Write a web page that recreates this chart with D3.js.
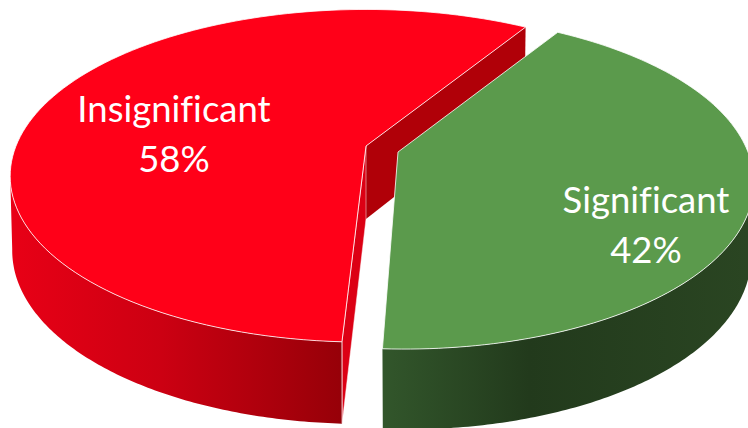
<!DOCTYPE html>
<html>
<head>
<meta charset="utf-8">
<script src="https://cdn.jsdelivr.net/npm/d3@7/dist/d3.min.js"></script>
<style>html,body{margin:0;padding:0;background:#fff;overflow:hidden}svg{display:block}</style>
</head>
<body>
<script>
const categories = ["Significant", "Insignificant"];
const values = [42, 58];
const percentLabels = ["42%", "58%"];
const topColors = ["#5b9a4c", "#ff0018"];
const W = 748, H = 428;

const startDeg = 31.7;
const pie = d3.pie().sort(null).value(d => d)
  .startAngle(startDeg * Math.PI / 180)
  .endAngle((startDeg + 360) * Math.PI / 180);
const arcs = pie(values);

// Per-slice layout: top-face apex and perspective, bottom-ring apex and perspective
const layout = [
  { ax: 398, ay: 152, R: 350, S: 162, k: 0.178, bx: 398, by: 225, bR: 348, bS: 170, bk: 0.169, skew: 6,
    wallFrom: 100, wallTo: null, label: [646, 213, 263] },
  { ax: 366, ay: 146, R: 350, S: 161, k: 0.179, bx: 366, by: 219, bR: 348, bS: 168.3, bk: 0.179, skew: -2.5,
    wallFrom: null, wallTo: 260, label: [174, 122, 171.5] }
];

function proj(a, r, cx, cy, R, S, k, skew) {
  const u = r * Math.sin(a), v = -r * Math.cos(a), w = 1 - k * v;
  const s = v > 0 ? skew * v * v : 0;
  return [cx + R * u / w + s, cy + S * v / w];
}
const topP = (l, a, r = 1) => proj(a, r, l.ax, l.ay, l.R, l.S, l.k, l.skew);
const botP = (l, a, r = 1) => proj(a, r, l.bx, l.by, l.bR, l.bS, l.bk, l.skew);
const line = d3.line();
const samples = (a0, a1) => d3.range(0, 121).map(i => a0 + (a1 - a0) * i / 120);

const svg = d3.select("body").append("svg").attr("width", W).attr("height", H)
  .style("font-family", "Lato, Carlito, sans-serif")
  .style("font-variant-ligatures", "none");
const defs = svg.append("defs");

function gradient(id, x1, x2, stops) {
  const g = defs.append("linearGradient").attr("id", id)
    .attr("gradientUnits", "userSpaceOnUse")
    .attr("x1", x1).attr("x2", x2).attr("y1", 0).attr("y2", 0);
  stops.forEach(s => g.append("stop").attr("offset", s[0]).attr("stop-color", s[1]));
}
gradient("gWallR", 12, 343, [[0, "#e80016"], [0.45, "#cc0012"], [1, "#960008"]]);
gradient("gWallG", 383, 748, [[0, "#32562b"], [0.4, "#223a1c"], [1, "#2a4522"]]);

const edge = "rgba(255,255,255,0.8)";

// red slice
const lr = layout[1], ar = arcs[1];
const rWall = samples(ar.startAngle, lr.wallTo * Math.PI / 180);
// back cut face (visible dark red)
svg.append("path")
  .attr("d", line([topP(lr, 0, 0), topP(lr, ar.endAngle), botP(lr, ar.endAngle), botP(lr, 0, 0)]) + "Z")
  .attr("fill", "#b00008");
// front cut face sliver
svg.append("path")
  .attr("d", line([topP(lr, 0, 0), topP(lr, ar.startAngle), botP(lr, ar.startAngle), botP(lr, 0, 0)]) + "Z")
  .attr("fill", "#dc0014").attr("stroke", edge).attr("stroke-width", 0.6);
// outer wall
svg.append("path")
  .attr("d", line(rWall.map(a => topP(lr, a)).concat(rWall.slice().reverse().map(a => botP(lr, a)))) + "Z")
  .attr("fill", "url(#gWallR)");
svg.append("path")
  .attr("d", line([topP(lr, ar.startAngle), botP(lr, ar.startAngle)]))
  .attr("stroke", edge).attr("stroke-width", 0.9).attr("fill", "none");
// top face
const rTop = samples(ar.startAngle, ar.endAngle);
svg.append("path")
  .attr("d", line([topP(lr, 0, 0)].concat(rTop.map(a => topP(lr, a)))) + "Z")
  .attr("fill", topColors[1]).attr("stroke", edge).attr("stroke-width", 1);

// green slice
const lg = layout[0], ag = arcs[0];
const gWall = samples(lg.wallFrom * Math.PI / 180, ag.endAngle);
svg.append("path")
  .attr("d", line(gWall.map(a => topP(lg, a)).concat(gWall.slice().reverse().map(a => botP(lg, a)))) + "Z")
  .attr("fill", "url(#gWallG)");
const gTop = samples(ag.startAngle, ag.endAngle);
svg.append("path")
  .attr("d", line([topP(lg, 0, 0)].concat(gTop.map(a => topP(lg, a)))) + "Z")
  .attr("fill", topColors[0]).attr("stroke", edge).attr("stroke-width", 1);

// labels
categories.forEach((c, i) => {
  const [x, y1, y2] = layout[i].label;
  svg.append("text").attr("x", x).attr("y", y1).attr("text-anchor", "middle")
    .attr("font-size", 36.5).attr("fill", "#fff").text(c);
  svg.append("text").attr("x", x).attr("y", y2).attr("text-anchor", "middle")
    .attr("font-size", 36.5).attr("fill", "#fff").text(percentLabels[i]);
});
</script>
</body>
</html>
